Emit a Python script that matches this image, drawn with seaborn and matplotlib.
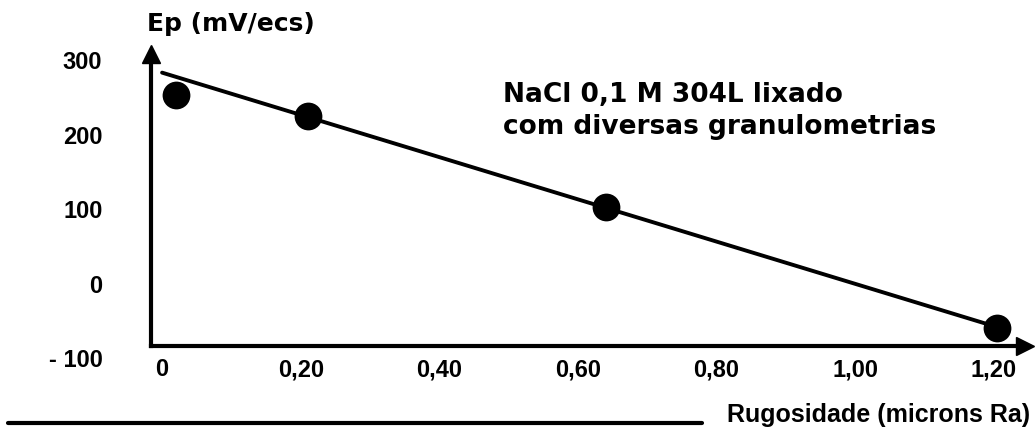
import matplotlib
matplotlib.use("Agg")
import matplotlib.pyplot as plt
from matplotlib.lines import Line2D
import seaborn as sns
import pandas as pd

# ---- data ----
rugosidade = [0.02, 0.21, 0.64, 1.205]          # microns Ra
potencial = [252, 224, 102, -60]                # Ep (mV/ecs)
fit_x = [0.0, 1.20]
fit_y = [282, -58]
x_ticks = [0, 0.2, 0.4, 0.6, 0.8, 1.0, 1.2]
x_tick_labels = ["0", "0,20", "0,40", "0,60", "0,80", "1,00", "1,20"]
y_ticks = [300, 200, 100, 0, -100]
y_tick_labels = ["300", "200", "100", "0", "- 100"]
y_label = "Ep (mV/ecs)"
x_label = "Rugosidade (microns Ra)"
annotation = "NaCl 0,1 M 304L lixado\ncom diversas granulometrias"

sns.set_theme(style="white")
plt.rcParams["font.family"] = ["Liberation Sans", "DejaVu Sans"]
plt.rcParams["text.color"] = "black"
plt.rcParams["xtick.color"] = "black"
plt.rcParams["ytick.color"] = "black"
plt.rcParams["axes.labelcolor"] = "black"

W, H = 1035, 431
fig = plt.figure(figsize=(W / 100, H / 100), dpi=100)
fig.patch.set_facecolor("white")

x_left, x_right = -0.016, 1.245
y_bottom, y_top = -105, 307
px_left, px_right = 151, 1025
px_top = 55
px_bottom = 209.4 + 0.745 * (100 - y_bottom)
ax = fig.add_axes([px_left / W, 1 - px_bottom / H,
                   (px_right - px_left) / W, (px_bottom - px_top) / H])
ax.set_facecolor("white")

df_pts = pd.DataFrame({"x": rugosidade, "y": potencial})
df_fit = pd.DataFrame({"x": fit_x, "y": fit_y})

sns.lineplot(data=df_fit, x="x", y="y", ax=ax, color="black", linewidth=2.8)
sns.scatterplot(data=df_pts, x="x", y="y", ax=ax, color="black", s=400,
                edgecolor="black", linewidth=0, zorder=5)

ax.set_xlim(x_left, x_right)
ax.set_ylim(y_bottom, y_top)

for s in ["top", "right"]:
    ax.spines[s].set_visible(False)
for s in ["left", "bottom"]:
    ax.spines[s].set_color("black")
    ax.spines[s].set_linewidth(3)
ax.spines["bottom"].set_position(("data", -85))
ax.spines["left"].set_bounds(-85, y_top)

# arrow heads
ax.plot(1, -85, ">", color="black", markersize=13,
        transform=ax.get_yaxis_transform(), clip_on=False)
ax.plot(x_left, 1, "^", color="black", markersize=13,
        transform=ax.get_xaxis_transform(), clip_on=False)

ax.set_xticks(x_ticks)
ax.set_xticklabels(x_tick_labels, fontsize=17, fontweight="bold")
ax.set_yticks(y_ticks)
ax.set_yticklabels(y_tick_labels, fontsize=17, fontweight="bold")
ax.tick_params(axis="x", length=0, pad=8, colors="black")
ax.tick_params(axis="y", length=0, pad=35, colors="black")
ax.set_xlabel("")
ax.set_ylabel("")
ax.grid(False)

fig.text(147 / W, 1 - 24 / H, y_label, fontsize=18, fontweight="bold",
         family="DejaVu Sans", ha="left", va="center", color="black")
fig.text(503 / W, 1 - 111 / H, annotation, fontsize=19, fontweight="bold",
         family="DejaVu Sans", ha="left", va="center", linespacing=1.3,
         color="black")
fig.text(1030 / W, 1 - 415 / H, x_label, fontsize=18, fontweight="bold",
         ha="right", va="center", color="black")
fig.add_artist(Line2D([8 / W, 702 / W], [1 - 424 / H, 1 - 424 / H],
                      color="black", linewidth=3))

fig.savefig("out.png", dpi=100, facecolor="white")
